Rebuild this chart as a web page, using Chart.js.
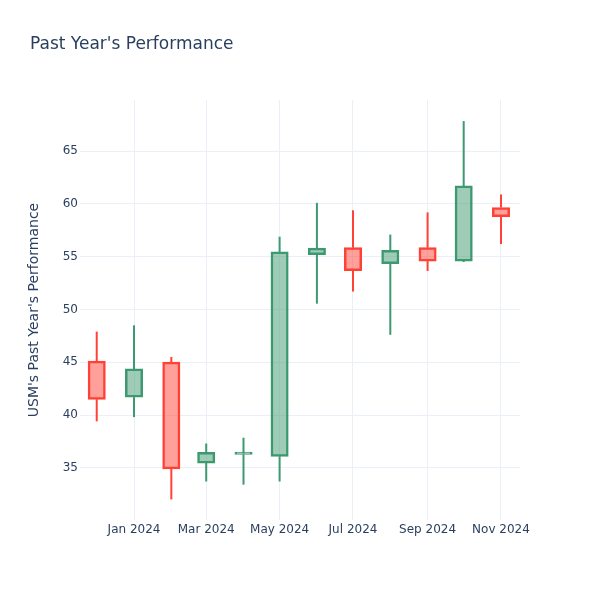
<!DOCTYPE html>
<html>
<head>
<meta charset="utf-8">
<script src="https://cdn.jsdelivr.net/npm/chart.js@4/dist/chart.umd.min.js"></script>
<style>
  html, body { margin: 0; padding: 0; background: #ffffff; }
  #wrap { width: 600px; height: 600px; }
</style>
</head>
<body>
<div id="wrap"><canvas id="c" width="600" height="600"></canvas></div>
<script>
// ---- data ----
const periods = ['2023-12-01','2024-01-01','2024-02-01','2024-03-01','2024-04-01','2024-05-01',
                 '2024-06-01','2024-07-01','2024-08-01','2024-09-01','2024-10-01','2024-11-01'];
const openVals  = [45.1, 41.7, 45.0, 35.45, 36.28, 36.1, 55.2, 55.85, 54.35, 55.85, 54.6, 59.65];
const highVals  = [47.9, 48.5, 45.5, 37.3, 37.85, 56.9, 60.1, 59.4, 57.1, 59.2, 67.85, 60.9];
const lowVals   = [39.4, 39.8, 32.0, 33.7, 33.4, 33.7, 50.55, 51.7, 47.6, 53.65, 54.5, 56.2];
const closeVals = [41.5, 44.35, 34.9, 36.45, 36.34, 55.45, 55.8, 53.7, 55.6, 54.6, 61.7, 58.8];
const tickDates  = ['2024-01-01','2024-03-01','2024-05-01','2024-07-01','2024-09-01','2024-11-01'];
const tickLabels = ['Jan 2024','Mar 2024','May 2024','Jul 2024','Sep 2024','Nov 2024'];

// ---- helpers ----
const EPOCH = Date.parse('2024-01-01T00:00:00Z');
const dayOf = s => (Date.parse(s + 'T00:00:00Z') - EPOCH) / 86400000;
const xs = periods.map(dayOf);
const tickVals = tickDates.map(dayOf);
const up = openVals.map((o, i) => closeVals[i] >= o);

const INC_LINE = '#3D9970', INC_FILL = 'rgba(61,153,112,0.5)';
const DEC_LINE = '#FF4136', DEC_FILL = 'rgba(255,65,54,0.5)';
const lineCol = up.map(u => u ? INC_LINE : DEC_LINE);
const fillCol = up.map(u => u ? INC_FILL : DEC_FILL);

const bodies = xs.map((x, i) => ({ x, y: [Math.min(openVals[i], closeVals[i]), Math.max(openVals[i], closeVals[i])] }));
const upperWicks = xs.map((x, i) => ({ x, y: [Math.max(openVals[i], closeVals[i]), highVals[i]] }));
const lowerWicks = xs.map((x, i) => ({ x, y: [lowVals[i], Math.min(openVals[i], closeVals[i])] }));

const FONT = 'DejaVu Sans';
const TXT = '#2a3f5f';
const GRID = '#EBF0F8';

new Chart(document.getElementById('c'), {
  type: 'bar',
  data: {
    datasets: [
      { data: upperWicks, backgroundColor: lineCol, borderWidth: 0, barThickness: 2, inflateAmount: 0, grouped: false, order: 2 },
      { data: lowerWicks, backgroundColor: lineCol, borderWidth: 0, barThickness: 2, inflateAmount: 0, grouped: false, order: 2 },
      { data: bodies, backgroundColor: fillCol, borderColor: lineCol, borderWidth: 1.5, borderSkipped: false,
        barThickness: 17, inflateAmount: 0.5, minBarLength: 2, grouped: false, order: 1 }
    ]
  },
  options: {
    responsive: false,
    animation: false,
    layout: { padding: { left: 30, right: 80, top: 0, bottom: 0 } },
    plugins: {
      legend: { display: false },
      tooltip: { enabled: false },
      title: {
        display: true,
        text: "Past Year's Performance",
        align: 'start',
        color: TXT,
        font: { family: FONT, size: 17, weight: 'normal' },
        padding: { top: 34, bottom: 45.6 }
      }
    },
    scales: {
      x: {
        type: 'linear',
        offset: false,
        min: -44.9,
        max: 320.8,
        grid: { color: GRID, lineWidth: 1, drawTicks: false, offset: false },
        border: { display: false },
        afterBuildTicks: (scale) => { scale.ticks = tickVals.map(v => ({ value: v })); },
        afterFit: (scale) => { scale.height = 80; },
        ticks: {
          color: TXT,
          font: { family: FONT, size: 12 },
          padding: 3,
          maxRotation: 0,
          autoSkip: false,
          callback: (v, i) => tickLabels[i]
        }
      },
      y: {
        min: 30.05,
        max: 69.85,
        grid: { color: GRID, lineWidth: 1, drawTicks: false },
        border: { display: false },
        afterFit: (scale) => { scale.width = 50; },
        ticks: {
          stepSize: 5,
          includeBounds: false,
          color: TXT,
          font: { family: FONT, size: 12 },
          padding: 2
        },
        title: {
          display: true,
          text: "USM's Past Year's Performance",
          color: TXT,
          font: { family: FONT, size: 14, weight: 'normal' },
          padding: { top: -4, bottom: 0 }
        }
      }
    }
  }
});
</script>
</body>
</html>
